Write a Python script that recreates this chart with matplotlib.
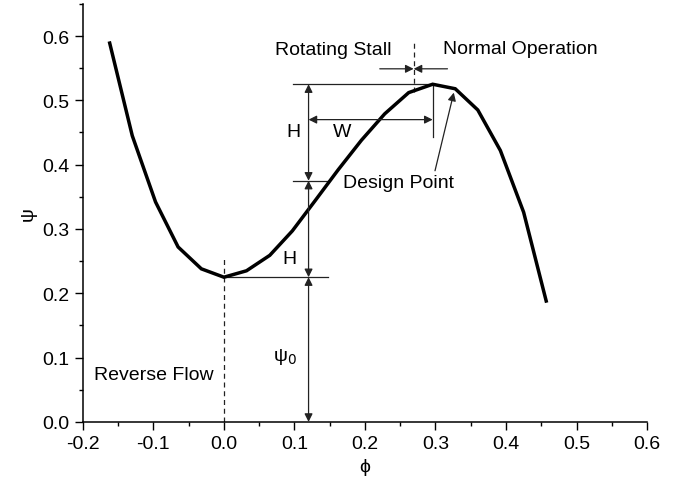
import matplotlib
matplotlib.use("Agg")
import matplotlib.pyplot as plt
from matplotlib.ticker import MultipleLocator, FormatStrFormatter

plt.rcParams["font.family"] = ["Liberation Sans", "DejaVu Sans"]
plt.rcParams["axes.unicode_minus"] = False

# compressor characteristic (flow coefficient vs pressure rise)
phi = [-0.162, -0.130, -0.097, -0.065, -0.032, 0.000, 0.032, 0.065, 0.097, 0.130,
       0.162, 0.195, 0.228, 0.262, 0.296, 0.328, 0.360, 0.392, 0.425, 0.457]
psi = [0.589, 0.445, 0.342, 0.272, 0.238, 0.225, 0.235, 0.259, 0.297, 0.345,
       0.392, 0.438, 0.479, 0.512, 0.525, 0.518, 0.485, 0.422, 0.326, 0.188]

psi_0 = 0.225      # minimum of the curve
psi_mid = 0.375    # psi_0 + H
psi_peak = 0.525   # psi_0 + 2H
phi_peak = 0.296
phi_stall = 0.269
phi_h = 0.120      # position of the H / psi_0 dimension line
psi_w = 0.470      # height of the W dimension line

LINE = "#222222"
FS = 14

fig = plt.figure(figsize=(6.74, 4.85), dpi=100)
ax = fig.add_axes([0.123, 0.128, 0.837, 0.862])

ax.plot(phi, psi, color="black", lw=2.5, solid_joinstyle="miter", zorder=3)

ax.set_xlim(-0.2, 0.6)
ax.set_ylim(0.0, 0.65)
ax.xaxis.set_major_locator(MultipleLocator(0.1))
ax.xaxis.set_minor_locator(MultipleLocator(0.05))
ax.yaxis.set_major_locator(MultipleLocator(0.1))
ax.yaxis.set_minor_locator(MultipleLocator(0.05))
ax.xaxis.set_major_formatter(FormatStrFormatter("%.1f"))
ax.yaxis.set_major_formatter(FormatStrFormatter("%.1f"))
ax.set_yticks([0.0, 0.1, 0.2, 0.3, 0.4, 0.5, 0.6])
ax.tick_params(which="major", direction="out", length=6, width=1, labelsize=FS)
ax.tick_params(which="minor", direction="out", length=3, width=1)
for side in ("top", "right"):
    ax.spines[side].set_visible(False)
for side in ("left", "bottom"):
    ax.spines[side].set_linewidth(1.1)

ax.set_xlabel("\u03d5", fontsize=FS, labelpad=4)
ax.set_ylabel("\u03c8", fontsize=FS, labelpad=4)

thin = dict(color=LINE, lw=0.9)

# dashed boundaries
ax.plot([0.0, 0.0], [0.0, 0.258], ls=(0, (4, 3)), **thin)
ax.plot([phi_stall, phi_stall], [0.513, 0.590], ls=(0, (4, 3)), **thin)

# reference lines
ax.plot([0.0, 0.148], [psi_0, psi_0], **thin)
ax.plot([0.098, 0.148], [psi_mid, psi_mid], **thin)
ax.plot([0.098, phi_peak], [psi_peak, psi_peak], **thin)
ax.plot([phi_peak, phi_peak], [0.443, psi_peak], **thin)

def dim(x0, y0, x1, y1, style="<|-|>"):
    ax.annotate("", xy=(x1, y1), xytext=(x0, y0),
                arrowprops=dict(arrowstyle=style, color=LINE, lw=0.9,
                                shrinkA=0, shrinkB=0, mutation_scale=12))

dim(phi_h, 0.0, phi_h, psi_0)
dim(phi_h, psi_0, phi_h, psi_mid)
dim(phi_h, psi_mid, phi_h, psi_peak)
dim(phi_h, psi_w, phi_peak, psi_w)

# stall margin arrows
dim(0.221, 0.549, phi_stall, 0.549, style="-|>")
dim(0.317, 0.549, phi_stall, 0.549, style="-|>")

ax.text(0.098, 0.451, "H", fontsize=FS, ha="center", va="center")
ax.text(0.093, 0.254, "H", fontsize=FS, ha="center", va="center")
ax.text(0.087, 0.103, "\u03c8$_0$", fontsize=FS, ha="center", va="center")
ax.text(0.167, 0.451, "W", fontsize=FS, ha="center", va="center")
ax.text(0.155, 0.579, "Rotating Stall", fontsize=FS, ha="center", va="center")
ax.text(0.311, 0.581, "Normal Operation", fontsize=FS, ha="left", va="center")
ax.text(-0.099, 0.073, "Reverse Flow", fontsize=FS, ha="center", va="center")

ax.annotate("Design Point", xy=(0.326, 0.512), xytext=(0.248, 0.373),
            fontsize=FS, ha="center", va="center",
            arrowprops=dict(arrowstyle="-|>", color=LINE, lw=0.9,
                            shrinkA=0, shrinkB=0, mutation_scale=12,
                            relpos=(0.82, 1.0)))

fig.savefig("out.png", dpi=100)
